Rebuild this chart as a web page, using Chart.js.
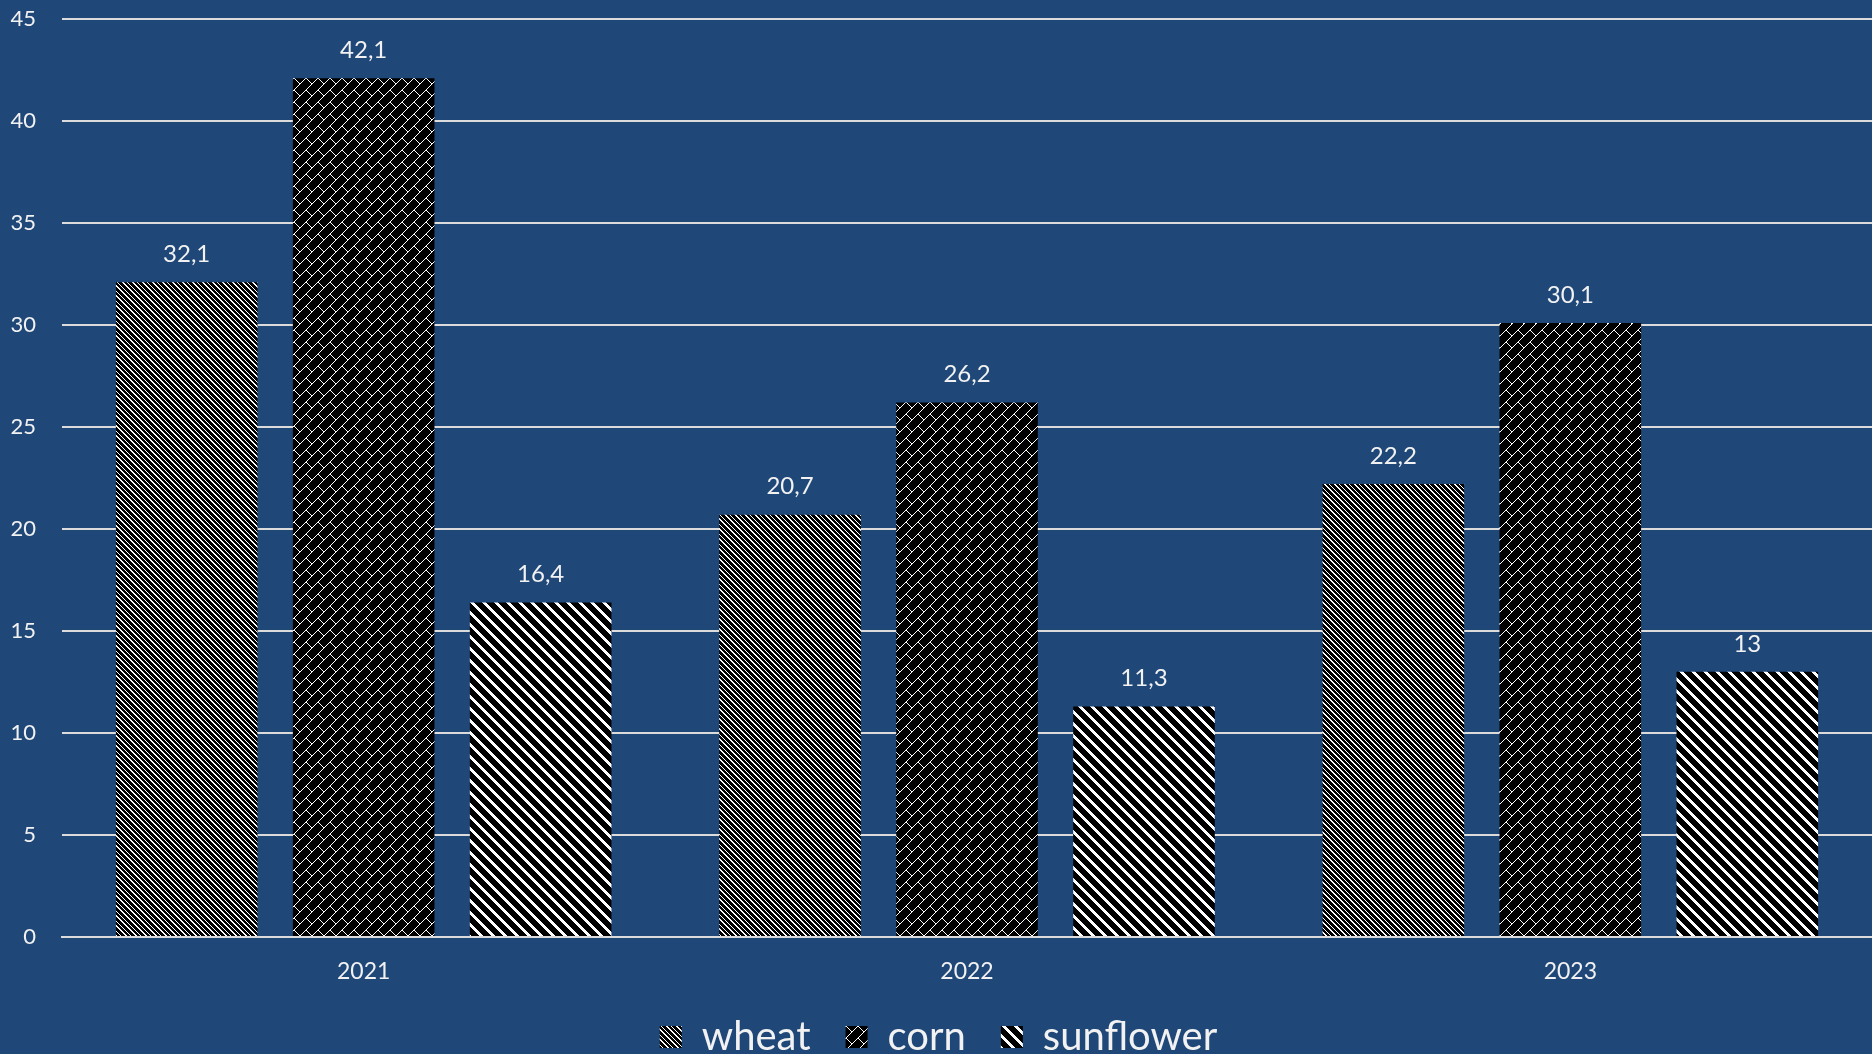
<!DOCTYPE html>
<html lang="en">

<head>
    <meta charset="UTF-8">
    <title>Harvest</title>
    <script src="https://cdn.jsdelivr.net/npm/chart.js"></script>
    <style>
        html, body { margin: 0; padding: 0; background: #1F4778; overflow: hidden; }
        canvas { display: block; }
    </style>
</head>

<body>
    <canvas id="dataChart" width="1872" height="1054"></canvas>

    <script>
        const years = ['2021', '2022', '2023'];
        const seriesNames = ['wheat', 'corn', 'sunflower'];
        const wheat = [32.1, 20.7, 22.2];
        const corn = [42.1, 26.2, 30.1];
        const sunflower = [16.4, 11.3, 13];
        const yTicks = [0, 5, 10, 15, 20, 25, 30, 35, 40, 45];

        const textColor = '#F2F2F2';
        const gridColor = '#DCDCDC';
        const font = 'Lato, "Open Sans", sans-serif';

        // pixel hatch tiles: test(x, y) -> white pixel
        function makePattern(size, test) {
            const c = document.createElement('canvas');
            c.width = size;
            c.height = size;
            const g = c.getContext('2d');
            g.fillStyle = '#000000';
            g.fillRect(0, 0, size, size);
            g.fillStyle = '#FFFFFF';
            for (let y = 0; y < size; y++) {
                for (let x = 0; x < size; x++) {
                    if (test(x, y)) g.fillRect(x, y, 1, 1);
                }
            }
            return g.createPattern(c, 'repeat');
        }

        const mod = (a, n) => ((a % n) + n) % n;
        const wheatPattern = makePattern(10, (x, y) => [0, 1, 5].includes(mod(x - y, 10)));
        const cornPattern = makePattern(12, (x, y) => x + y === 11 || (y >= 6 && x === y));
        const sunPattern = makePattern(12, (x, y) => mod(x - y, 12) < 4);

        const valueLabels = {
            id: 'valueLabels',
            afterDatasetsDraw(chart) {
                const ctx = chart.ctx;
                ctx.save();
                ctx.fillStyle = textColor;
                ctx.font = '24px ' + font;
                ctx.textAlign = 'center';
                ctx.textBaseline = 'middle';
                chart.data.datasets.forEach((ds, i) => {
                    chart.getDatasetMeta(i).data.forEach((bar, j) => {
                        ctx.fillText(String(ds.data[j]).replace('.', ','), bar.x, bar.y - 28);
                    });
                });
                ctx.restore();
            }
        };

        const ctx = document.getElementById('dataChart').getContext('2d');
        const dataChart = new Chart(ctx, {
            type: 'bar',
            data: {
                labels: years,
                datasets: [
                    { label: seriesNames[0], data: wheat, backgroundColor: wheatPattern },
                    { label: seriesNames[1], data: corn, backgroundColor: cornPattern },
                    { label: seriesNames[2], data: sunflower, backgroundColor: sunPattern }
                ].map(ds => Object.assign(ds, {
                    borderWidth: 0,
                    categoryPercentage: 0.88,
                    barPercentage: 0.8
                }))
            },
            options: {
                responsive: false,
                animation: false,
                devicePixelRatio: 1,
                layout: {
                    autoPadding: false,
                    padding: { top: 19, left: 0, right: -5, bottom: 0 }
                },
                scales: {
                    x: {
                        grid: { display: false, drawTicks: false },
                        border: { display: true, color: gridColor, width: 2 },
                        ticks: {
                            color: textColor,
                            padding: 23,
                            font: { family: font, size: 23, lineHeight: 1 }
                        },
                        afterFit(axis) { axis.height = 45; }
                    },
                    y: {
                        min: 0,
                        max: 45,
                        afterBuildTicks(axis) { axis.ticks = yTicks.map(v => ({ value: v })); },
                        grid: { color: gridColor, lineWidth: 2, drawTicks: false },
                        border: { display: false },
                        ticks: {
                            color: textColor,
                            padding: 26,
                            font: { family: font, size: 22 }
                        },
                        afterFit(axis) {
                            axis.width = 62;
                            axis.paddingTop = 0;
                            axis.paddingBottom = 0;
                        }
                    }
                },
                plugins: {
                    legend: {
                        position: 'bottom',
                        maxHeight: 72,
                        labels: {
                            color: textColor,
                            boxWidth: 22,
                            boxHeight: 22,
                            padding: 35,
                            font: { family: font, size: 40 }
                        }
                    },
                    tooltip: { enabled: false }
                }
            },
            plugins: [valueLabels]
        });
    </script>
</body>

</html>
